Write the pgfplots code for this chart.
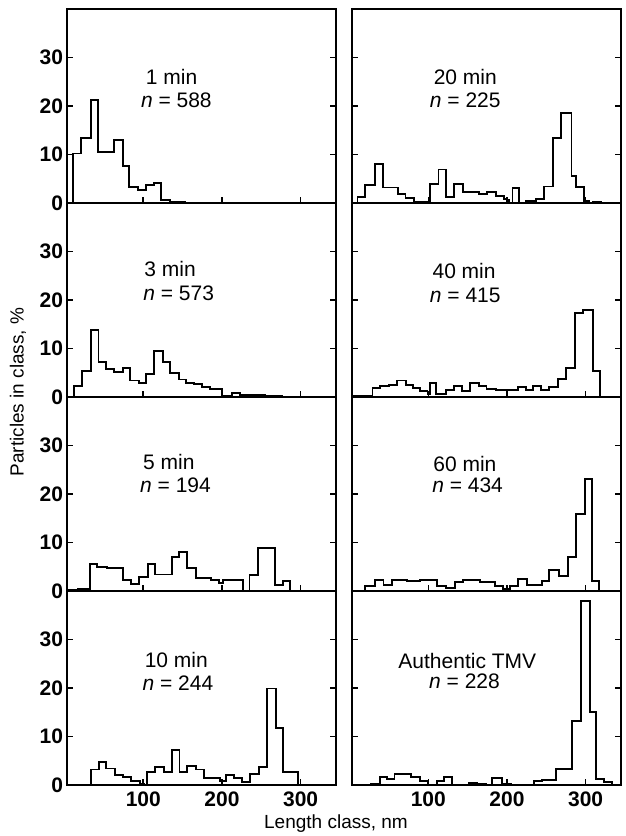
\documentclass[border=0pt]{standalone}
\usepackage{fontspec}
\setmainfont{Liberation Sans}
\usepackage{pgfplots}
\pgfplotsset{compat=1.18}
\pgfplotsset{
  hist/.style={
    scale only axis, width=134.5pt, height=97pt,
    xmin=3, xmax=345, ymin=0, ymax=40,
    xtick={100,200,300}, ytick={0,10,20,30},
    tick align=inside, xtick pos=bottom, ytick pos=both,
    major tick length=3pt,
    axis line style={line width=0.9pt},
    every tick/.style={black, line width=0.8pt},
    xticklabels={}, yticklabels={},
    tick label style={font=\bfseries\fontsize{10.5}{12}\selectfont},
    yticklabel style={xshift=1.5pt},
  },
  ylab/.style={yticklabels={0,10,20,30}},
  xlab/.style={xticklabels={100,200,300}},
  hl/.style={const plot, black, line width=0.95pt, mark=none},
}
\tikzset{ann/.style={font=\fontsize{10.5}{12}\selectfont, anchor=center}}
\begin{document}
\begin{tikzpicture}
\path[use as bounding box] (0,0) rectangle (313pt,418pt);
% ---- left column ----
\begin{axis}[hist, ylab, at={(33.5pt,316.5pt)}, anchor=south west]
\addplot[hl] coordinates {(11,0) (11,10.2) (21,13.4) (33,21.2) (42,10.6) (63,13.0) (74,7.6) (82,3.3) (93,2.6) (103,3.8) (114,4.1) (123,0.6) (134,0.2) (153,0)};
\node[ann] at (axis cs:136,26) {1 min};
\node[ann] at (axis cs:142,21.2) {\textit{n} = 588};
\end{axis}
\begin{axis}[hist, ylab, at={(33.5pt,219.5pt)}, anchor=south west]
\addplot[hl] coordinates {(11.5,0) (11.5,2.2) (22,5.4) (33,13.9) (43,7.3) (53,5.8) (63,5.1) (74.5,6.0) (83,3.4) (94,2.8) (103,4.8) (114,9.4) (125,7.2) (134,5.0) (145,3.6) (154.5,2.9) (165,2.6) (174.5,2.1) (185,1.7) (200,0.3) (213,0.75) (223,0.5) (236,0.35) (255,0.2) (276,0)};
\node[ann] at (axis cs:134,26.4) {3 min};
\node[ann] at (axis cs:145,21.3) {\textit{n} = 573};
\end{axis}
\begin{axis}[hist, ylab, at={(33.5pt,122.5pt)}, anchor=south west]
\addplot[hl] coordinates {(3,0.3) (17,0.5) (32,5.5) (40.6,5.0) (53.4,4.8) (74,2.2) (84.6,1.4) (94,2.9) (105.6,5.5) (115.4,3.4) (136,7.0) (145.3,8.1) (156,4.8) (166.7,2.6) (186,2.3) (195.7,1.7) (201,2.2) (226.5,0.1) (235,3.3) (245.7,8.8) (267,1.2) (277.8,2.1) (287,0)};
\node[ann] at (axis cs:132.5,26.5) {5 min};
\node[ann] at (axis cs:141,21.7) {\textit{n} = 194};
\end{axis}
\begin{axis}[hist, ylab, xlab, at={(33.5pt,25.5pt)}, anchor=south west]
\addplot[hl] coordinates {(33,0) (33,3.2) (43.6,4.8) (53,3.4) (63.7,2.1) (74.4,1.6) (84.2,0.9) (95.7,0.3) (101,0) (104.7,2.6) (115.4,3.8) (126,2.6) (136.3,7.3) (146,2.6) (156,3.9) (166.7,3.2) (177,1.4) (197.4,0.8) (205,2.1) (215.8,1.4) (226,0.55) (236,2.3) (246.6,3.7) (257.3,19.9) (269.2,11.7) (277.8,2.6) (297,0)};
\node[ann] at (axis cs:142,25.7) {10 min};
\node[ann] at (axis cs:144,20.9) {\textit{n} = 244};
\end{axis}
% ---- right column ----
\begin{axis}[hist, at={(176pt,316.5pt)}, anchor=south west]
\addplot[hl] coordinates {(10,0) (10,1.2) (20,3.8) (32,8.1) (42,3.2) (62,1.9) (71,1.0) (82,0.2) (102,3.9) (113,6.9) (123,1.2) (133,3.9) (144,2.3) (164,1.9) (175,2.2) (186,1.5) (196,0.9) (200,0.6) (203,0) (207,3.0) (215,0.1) (224,0.35) (237,0.9) (247,3.4) (258,13.4) (269,18.6) (282,5.5) (288,3.3) (298,0) (301,0.5) (305,0) (309,0.2) (320,0)};
\node[ann] at (axis cs:147,25.9) {20 min};
\node[ann] at (axis cs:147,21.2) {\textit{n} = 225};
\end{axis}
\begin{axis}[hist, at={(176pt,219.5pt)}, anchor=south west]
\addplot[hl] coordinates {(3,0.3) (29,1.8) (39,2.2) (50,2.5) (60,3.4) (72,2.5) (80,1.8) (90,1.2) (99,0.7) (102,2.9) (110,0.7) (122,1.4) (133,2.2) (143,1.2) (153,2.9) (164,2.2) (174,1.6) (186,1.4) (214,2.0) (224,1.5) (233,2.2) (243,1.5) (254,2.0) (265,3.7) (275,6.0) (286,17.3) (297,18.0) (309,5.4) (318,0.1) (326,0)};
\node[ann] at (axis cs:145.5,26) {40 min};
\node[ann] at (axis cs:147,21) {\textit{n} = 415};
\end{axis}
\begin{axis}[hist, at={(176pt,122.5pt)}, anchor=south west]
\addplot[hl] coordinates {(20,0) (20,1.0) (32,2.3) (43,1.3) (53.5,2.2) (72.5,2.0) (89.4,2.2) (110.6,1.0) (123,0.6) (134,1.9) (144,2.2) (165.5,1.9) (184.6,1.0) (195,0.5) (204,1.0) (214,2.5) (225,1.2) (244,2.0) (254,4.3) (266,3.0) (278,7.0) (288,15.9) (299,23.1) (308,2.0) (317,0)};
\node[ann] at (axis cs:146.5,26.2) {60 min};
\node[ann] at (axis cs:150,21.8) {\textit{n} = 434};
\end{axis}
\begin{axis}[hist, xlab, at={(176pt,25.5pt)}, anchor=south west]
\addplot[hl] coordinates {(27,0) (27,0.3) (39,1.7) (48,1.2) (57,2.3) (78,1.6) (89,0.9) (100,0) (111,0.9) (120,1.6) (130,0) (152,0.5) (162,0.3) (173,0) (181,1.4) (194,0.2) (205,0) (234,0.8) (245,1.0) (262,3.3) (283,13.2) (294,37.9) (306,15.1) (313,1.2) (323,0.55) (334,0.1) (342,0)};
\node[ann] at (axis cs:149.6,25.5) {Authentic TMV};
\node[ann] at (axis cs:146,21.3) {\textit{n} = 228};
\end{axis}
\node[rotate=90, font=\fontsize{9.5}{11}\selectfont] at (9pt,222pt) {Particles in class, \%};
\node[anchor=base, font=\fontsize{9.5}{11}\selectfont] at (168pt,4pt) {Length class, nm};
\end{tikzpicture}
\end{document}
